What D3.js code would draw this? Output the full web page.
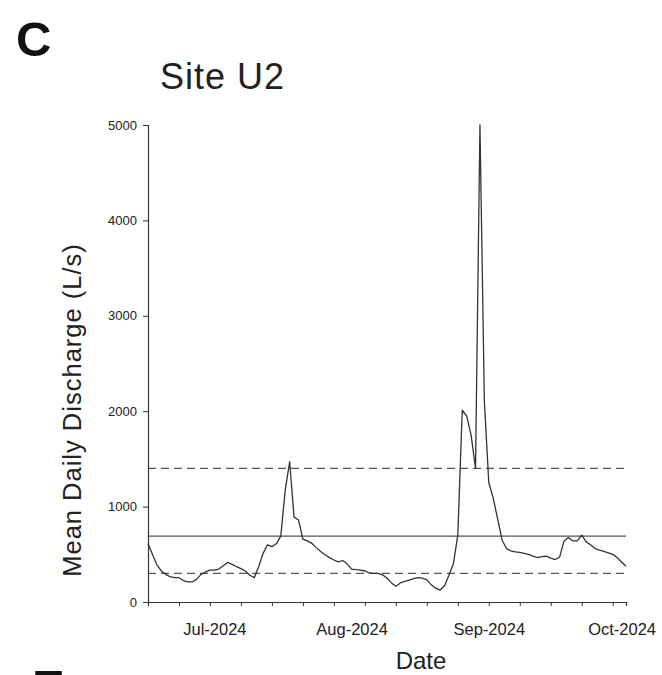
<!DOCTYPE html>
<html>
<head>
<meta charset="utf-8">
<script src="https://cdn.jsdelivr.net/npm/d3@7"></script>
<style>
  body { margin: 0; background: #fff; }
  text { font-family: "Liberation Sans", Arial, sans-serif; }
</style>
</head>
<body>
<svg id="chart" width="662" height="675"></svg>
<script>
// Daily mean discharge at Site U2, one value per day starting 16 Jun 2024
const seriesStart = "2024-06-16";
const dischargeLps = [
  610, 500, 390, 325, 290, 265, 255, 255, 225, 210,
  210, 240, 290, 315, 335, 335, 345, 380, 415, 395,
  370, 350, 325, 280, 255, 370, 510, 600, 580, 610,
  690, 1170, 1470, 890, 860, 660, 640, 615, 570, 530,
  495, 465, 440, 420, 435, 400, 345, 340, 335, 325,
  305, 300, 300, 285, 250, 200, 165, 200, 215, 230,
  245, 255, 250, 232, 180, 145, 125, 170, 280, 400,
  700, 2010, 1950, 1750, 1400, 5000, 2100, 1250, 1090, 870,
  650, 560, 535, 525, 520, 510, 500, 480, 465, 475,
  480, 460, 445, 470, 640, 675, 640, 640, 700, 630,
  600, 560, 545, 530, 515, 500, 465, 420, 375
];

// Flow reference levels (L/s): high-flow, median, low-flow
const referenceLevels = [1400, 690, 300];
const referenceNames = ["high", "median", "low"];

// Axis ticks
const yTicks = [0, 1000, 2000, 3000, 4000, 5000];
const monthTicks = ["2024-07-01", "2024-08-01", "2024-09-01", "2024-10-01"];
const xDomain = ["2024-06-16", "2024-10-02"];

const parse = d3.utcParse("%Y-%m-%d");
const start = parse(seriesStart);
const data = dischargeLps.map((v, i) => ({ date: d3.utcDay.offset(start, i), value: v }));

const svg = d3.select("#chart");
const plotLeft = 148, plotRight = 626, plotTop = 125, plotBottom = 602;

const x = d3.scaleUtc().domain(xDomain.map(parse)).range([plotLeft, plotRight]);
const y = d3.scaleLinear().domain([0, 5000]).range([plotBottom, plotTop]);

const ink = "#333";
const font = "'Liberation Sans', Arial, sans-serif";

// Panel letter and title
svg.append("text").attr("x", 16).attr("y", 56)
  .attr("font-size", 49).attr("font-weight", "bold").attr("fill", "#111").text("C");
svg.append("text").attr("x", 160).attr("y", 89)
  .attr("font-size", 36).attr("letter-spacing", 1).attr("fill", "#222").text("Site U2");

// Reference levels
svg.append("g").selectAll("line").data(referenceLevels).join("line")
  .attr("x1", plotLeft).attr("x2", plotRight)
  .attr("y1", d => y(d)).attr("y2", d => y(d))
  .attr("stroke", "#555").attr("stroke-width", 1.3)
  .attr("stroke-dasharray", (d, i) => referenceNames[i] === "median" ? null : "8,5");

// Discharge line
svg.append("path").datum(data)
  .attr("fill", "none").attr("stroke", ink).attr("stroke-width", 1.3)
  .attr("stroke-linejoin", "round")
  .attr("d", d3.line().x(d => x(d.date)).y(d => y(d.value)));

// Y axis
const yAxis = svg.append("g").attr("transform", `translate(${plotLeft},0)`)
  .call(d3.axisLeft(y).tickValues(yTicks).tickSize(5).tickPadding(6).tickFormat(d3.format("d")));
yAxis.select(".domain").attr("stroke", ink).attr("stroke-width", 1.2);
yAxis.selectAll(".tick line").attr("stroke", ink);
yAxis.selectAll("text").attr("font-size", 13).attr("fill", "#222").attr("font-family", font);

// X axis: weekly minor ticks plus month labels
const xAxis = svg.append("g").attr("transform", `translate(0,${plotBottom})`)
  .call(d3.axisBottom(x).ticks(d3.utcWeek.every(1)).tickSize(4).tickFormat(""));
xAxis.select(".domain").attr("stroke", ink).attr("stroke-width", 1.2);
xAxis.selectAll(".tick line").attr("stroke", ink);

const xLabels = svg.append("g").attr("transform", `translate(0,${plotBottom})`)
  .call(d3.axisBottom(x).tickValues(monthTicks.map(parse)).tickSize(0).tickPadding(21)
    .tickFormat(d3.utcFormat("%b-%Y")));
xLabels.select(".domain").remove();
xLabels.selectAll("text").attr("font-size", 16.5).attr("fill", "#222").attr("font-family", font);

// Axis titles
svg.append("text").attr("x", 421).attr("y", 669).attr("text-anchor", "middle")
  .attr("font-size", 24).attr("fill", "#222").text("Date");
svg.append("text")
  .attr("transform", `translate(81,410) rotate(-90)`)
  .attr("text-anchor", "middle").attr("font-size", 25.5).attr("letter-spacing", 1)
  .attr("fill", "#222")
  .text("Mean Daily Discharge (L/s)");

// Next panel letter, cut off by the page edge
svg.append("text").attr("x", 32).attr("y", 704)
  .attr("font-size", 49).attr("font-weight", "bold").attr("fill", "#111").text("E");
</script>
</body>
</html>
